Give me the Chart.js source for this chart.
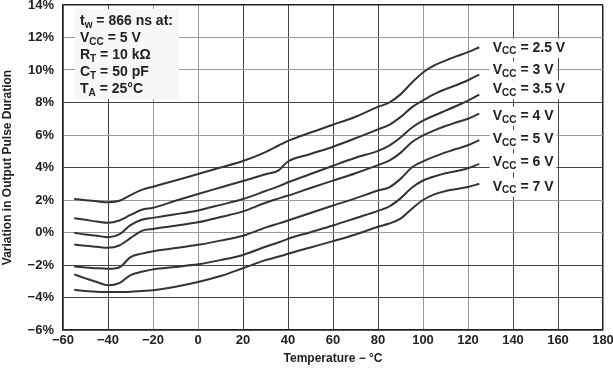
<!DOCTYPE html>
<html>
<head>
<meta charset="utf-8">
<script src="https://cdn.jsdelivr.net/npm/chart.js@4.4.1/dist/chart.umd.min.js"></script>
<style>
  html, body { margin: 0; padding: 0; background: #fff; }
  #wrap { width: 613px; height: 372px; position: relative; }
</style>
</head>
<body>
<div id="wrap"><canvas id="chart"></canvas></div>
<script>
// temperature points (°C)
const temps = [-55, -50, -45, -40, -35, -30, -25, -20, -10, 0, 10, 20, 30, 36, 38, 40, 50, 60, 70, 80, 85, 90, 95, 100, 105, 110, 115, 120, 125]

// variation in output pulse duration (%) for each supply voltage
const vcc2_5 = [2.06, 1.99, 1.92, 1.86, 1.95, 2.3, 2.62, 2.82, 3.2, 3.6, 4.0, 4.4, 4.95, 5.37, 5.5, 5.64, 6.15, 6.63, 7.12, 7.73, 8.0, 8.5, 9.22, 9.85, 10.28, 10.58, 10.85, 11.1, 11.4]
const vcc3 = [0.88, 0.78, 0.68, 0.6, 0.74, 1.08, 1.4, 1.52, 1.95, 2.37, 2.77, 3.17, 3.58, 3.84, 4.12, 4.37, 4.83, 5.28, 5.8, 6.35, 6.63, 7.1, 7.7, 8.13, 8.52, 8.82, 9.08, 9.37, 9.72]
const vcc3_5 = [-0.02, -0.12, -0.2, -0.29, -0.12, 0.45, 0.78, 0.9, 1.12, 1.36, 1.7, 2.06, 2.55, 2.85, 2.97, 3.09, 3.6, 4.11, 4.6, 5.02, 5.35, 5.85, 6.45, 6.88, 7.2, 7.5, 7.8, 8.12, 8.48]
const vcc4 = [-0.74, -0.82, -0.88, -0.94, -0.8, -0.35, 0.1, 0.22, 0.42, 0.63, 0.95, 1.3, 1.83, 2.1, 2.19, 2.27, 2.74, 3.19, 3.65, 4.15, 4.42, 4.9, 5.55, 5.97, 6.28, 6.55, 6.78, 7.0, 7.32]
const vcc5 = [-2.09, -2.15, -2.2, -2.23, -2.15, -1.52, -1.3, -1.15, -0.96, -0.76, -0.5, -0.2, 0.3, 0.56, 0.65, 0.74, 1.2, 1.66, 2.1, 2.58, 2.78, 3.3, 4.0, 4.38, 4.67, 4.93, 5.15, 5.37, 5.68]
const vcc6 = [-2.58, -2.82, -3.05, -3.25, -3.12, -2.62, -2.42, -2.27, -2.12, -1.96, -1.7, -1.38, -0.88, -0.6, -0.5, -0.39, 0.02, 0.43, 0.88, 1.33, 1.6, 2.1, 2.75, 3.2, 3.45, 3.65, 3.78, 3.95, 4.22]
const vcc7 = [-3.52, -3.6, -3.64, -3.66, -3.66, -3.64, -3.6, -3.56, -3.34, -3.05, -2.68, -2.2, -1.7, -1.48, -1.4, -1.31, -0.92, -0.53, -0.12, 0.35, 0.55, 0.85, 1.45, 2.0, 2.35, 2.55, 2.68, 2.8, 3.0]

const seriesValues = [vcc2_5, vcc3, vcc3_5, vcc4, vcc5, vcc6, vcc7]
const vccNames = ['2.5', '3', '3.5', '4', '5', '6', '7']

// where the curve labels sit (data units)
const labelTemp = 131
const labelPct = [11.37, 9.98, 8.81, 7.18, 5.74, 4.31, 2.82]

// test conditions box: [main, subscript, rest]
const conditions = [
  ['t', 'w', ' = 866 ns at:'],
  ['V', 'CC', ' = 5 V'],
  ['R', 'T', ' = 10 kΩ'],
  ['C', 'T', ' = 50 pF'],
  ['T', 'A', ' = 25°C']
]

// grid lines that print darker in the original
const darkX = [-40, 20, 40, 60, 80, 140, 160]
const darkY = [8, 4, -2, -4]

const FONT = '"Liberation Sans", Arial, Helvetica, sans-serif'
const minus = v => (v < 0 ? '\u2212' + Math.abs(v) : String(v))

// draws "V" + subscript "CC" + " = 5 V", returns the width used
function drawRich(ctx, x, y, parts, size) {
  const big = `bold ${size}px ${FONT}`
  const small = `bold ${Math.round(size * 0.72)}px ${FONT}`
  let cx = x
  ctx.font = big
  ctx.fillText(parts[0], cx, y)
  cx += ctx.measureText(parts[0]).width
  ctx.font = small
  ctx.fillText(parts[1], cx, y + 4)
  cx += ctx.measureText(parts[1]).width
  ctx.font = big
  ctx.fillText(parts[2], cx, y)
  cx += ctx.measureText(parts[2]).width
  return cx - x
}

function richWidth(ctx, parts, size) {
  ctx.font = `bold ${size}px ${FONT}`
  let w = ctx.measureText(parts[0]).width + ctx.measureText(parts[2]).width
  ctx.font = `bold ${Math.round(size * 0.72)}px ${FONT}`
  return w + ctx.measureText(parts[1]).width
}

const textPlugin = {
  id: 'texts',
  beforeDatasetsDraw(chart) {
    const ctx = chart.ctx
    const xs = chart.scales.x, ys = chart.scales.y
    ctx.save()
    ctx.textBaseline = 'middle'
    ctx.textAlign = 'left'

    // conditions box, top-left
    ctx.fillStyle = '#f7f7f7'
    ctx.fillRect(75, 9, 104, 90)
    ctx.fillStyle = '#222'
    conditions.forEach((c, i) => drawRich(ctx, 80, 21 + i * 17, c, 14))

    // curve labels on the right
    vccNames.forEach((n, i) => {
      const parts = ['V', 'CC', ' = ' + n + ' V']
      const px = xs.getPixelForValue(labelTemp)
      const py = ys.getPixelForValue(labelPct[i])
      const w = richWidth(ctx, parts, 14)
      ctx.fillStyle = '#fff'
      ctx.fillRect(px - 3, py - 9, w + 6, 19)
      ctx.fillStyle = '#222'
      drawRich(ctx, px, py, parts, 14)
    })
    ctx.restore()
  }
}

const ctx = document.getElementById('chart').getContext('2d')

new Chart(ctx, {
  type: 'line',
  data: {
    datasets: seriesValues.map((vals, i) => ({
      label: 'VCC = ' + vccNames[i] + ' V',
      data: temps.map((t, j) => ({ x: t, y: vals[j] })),
      borderColor: '#333',
      borderWidth: 2,
      pointRadius: 0,
      fill: false,
      cubicInterpolationMode: 'monotone'
    }))
  },
  options: {
    responsive: true,
    maintainAspectRatio: false,
    animation: false,
    layout: { padding: 0 },
    plugins: {
      legend: { display: false },
      tooltip: { enabled: false }
    },
    scales: {
      x: {
        type: 'linear',
        min: -60,
        max: 180,
        ticks: {
          stepSize: 20,
          padding: 3,
          color: '#222',
          font: { family: FONT, size: 13, weight: 'bold' },
          callback: v => minus(v)
        },
        grid: {
          drawTicks: false,
          lineWidth: c => (c.tick && (c.tick.value === -60 || c.tick.value === 180) ? 1.5 : 1),
          color: c => {
            const v = c.tick ? c.tick.value : 0
            if (v === -60 || v === 180) return '#222'
            return darkX.includes(v) ? '#444' : '#999'
          }
        },
        border: { color: '#222', width: 1.5 },
        title: {
          display: true,
          text: 'Temperature \u2212 \u00B0C',
          color: '#222',
          font: { family: FONT, size: 12, weight: 'bold' },
          padding: { top: 4, bottom: 6 }
        },
        afterFit: s => {
          s.height = 42
          s.paddingLeft = 0
          s.paddingRight = 10
        }
      },
      y: {
        min: -6,
        max: 14,
        ticks: {
          stepSize: 2,
          padding: 9,
          color: '#222',
          font: { family: FONT, size: 13, weight: 'bold' },
          callback: v => minus(v) + '%'
        },
        grid: {
          drawTicks: false,
          lineWidth: c => (c.tick && (c.tick.value === -6 || c.tick.value === 14) ? 1.5 : 1),
          color: c => {
            const v = c.tick ? c.tick.value : 0
            if (v === -6 || v === 14) return '#222'
            return darkY.includes(v) ? '#444' : '#999'
          }
        },
        border: { color: '#222', width: 1.5 },
        title: {
          display: true,
          text: 'Variation in Output Pulse Duration',
          color: '#222',
          font: { family: FONT, size: 12, weight: 'bold' },
          padding: { top: 0, bottom: 2 }
        },
        afterFit: s => {
          s.width = 63
          s.paddingTop = 5
          s.paddingBottom = 0
        }
      }
    }
  },
  plugins: [textPlugin]
})
</script>
</body>
</html>
